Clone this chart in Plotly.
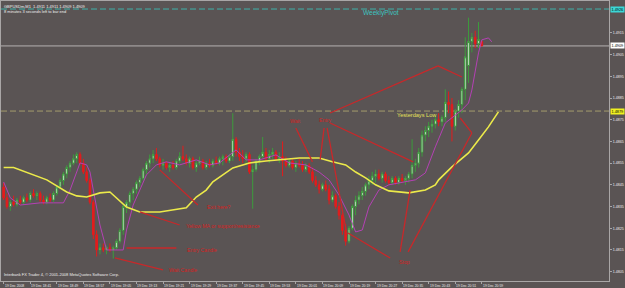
import plotly.graph_objects as go

# ---------------- data (GBPUSDm, M1, 19 Dec 2008) ----------------
bar_index = list(range(145))

opens = [1.4844, 1.4839, 1.4835, 1.4837, 1.4836, 1.4838, 1.4837, 1.4839, 1.4838, 1.4841,
         1.4840, 1.4841, 1.4838, 1.4837, 1.4839, 1.4838, 1.4841, 1.4844, 1.4847, 1.4850,
         1.4853, 1.4855, 1.4857, 1.4859, 1.4855, 1.4851, 1.4847, 1.4837, 1.4822, 1.4815,
         1.4816, 1.4815, 1.4816, 1.4815, 1.4816, 1.4819, 1.4824, 1.4835, 1.4837, 1.4841,
         1.4843, 1.4846, 1.4848, 1.4852, 1.4855, 1.4857, 1.4859, 1.4857, 1.4854, 1.4855,
         1.4853, 1.4854, 1.4853, 1.4856, 1.4858, 1.4857, 1.4855, 1.4857, 1.4853, 1.4855,
         1.4856, 1.4853, 1.4855, 1.4854, 1.4856, 1.4855, 1.4857, 1.4858, 1.4856, 1.4858,
         1.4866, 1.4860, 1.4858, 1.4857, 1.4859, 1.4851, 1.4852, 1.4856, 1.4858, 1.4860,
         1.4857, 1.4859, 1.4860, 1.4857, 1.4858, 1.4856, 1.4854, 1.4856, 1.4853, 1.4855,
         1.4854, 1.4852, 1.4854, 1.4851, 1.4847, 1.4845, 1.4843, 1.4845, 1.4843, 1.4838,
         1.4840, 1.4835, 1.4831, 1.4824, 1.4819, 1.4825, 1.4835, 1.4838, 1.4840, 1.4842,
         1.4845, 1.4847, 1.4849, 1.4850, 1.4848, 1.4850, 1.4847, 1.4846, 1.4848, 1.4846,
         1.4848, 1.4847, 1.4848, 1.4850, 1.4854, 1.4855, 1.4860, 1.4868, 1.4870, 1.4872,
         1.4873, 1.4875, 1.4874, 1.4876, 1.4883, 1.4882, 1.4872, 1.4879, 1.4882, 1.4889,
         1.4900, 1.4911, 1.4913, 1.4910, 1.4911]
highs = [1.4846, 1.4841, 1.4838, 1.4840, 1.4839, 1.4840, 1.4840, 1.4841, 1.4842, 1.4843,
         1.4842, 1.4842, 1.4840, 1.4840, 1.4841, 1.4842, 1.4845, 1.4848, 1.4851, 1.4854,
         1.4856, 1.4859, 1.4860, 1.4860, 1.4857, 1.4853, 1.4848, 1.4838, 1.4824, 1.4818,
         1.4818, 1.4817, 1.4818, 1.4817, 1.4820, 1.4825, 1.4836, 1.4838, 1.4842, 1.4844,
         1.4847, 1.4849, 1.4853, 1.4856, 1.4859, 1.4861, 1.4862, 1.4858, 1.4857, 1.4856,
         1.4855, 1.4856, 1.4857, 1.4860, 1.4863, 1.4859, 1.4858, 1.4858, 1.4856, 1.4858,
         1.4857, 1.4856, 1.4857, 1.4857, 1.4858, 1.4858, 1.4859, 1.4859, 1.4859, 1.4878,
         1.4867, 1.4862, 1.4861, 1.4860, 1.4860, 1.4854, 1.4857, 1.4859, 1.4867, 1.4862,
         1.4861, 1.4862, 1.4861, 1.4860, 1.4865, 1.4858, 1.4857, 1.4857, 1.4856, 1.4857,
         1.4856, 1.4855, 1.4855, 1.4853, 1.4849, 1.4847, 1.4846, 1.4847, 1.4845, 1.4842,
         1.4841, 1.4837, 1.4832, 1.4827, 1.4826, 1.4836, 1.4840, 1.4842, 1.4844, 1.4846,
         1.4849, 1.4851, 1.4852, 1.4852, 1.4851, 1.4851, 1.4849, 1.4849, 1.4849, 1.4849,
         1.4850, 1.4849, 1.4851, 1.4866, 1.4857, 1.4862, 1.4870, 1.4872, 1.4874, 1.4875,
         1.4877, 1.4878, 1.4877, 1.4889, 1.4888, 1.4885, 1.4880, 1.4884, 1.4890, 1.4913,
         1.4922, 1.4915, 1.4916, 1.4920, 1.4911]
lows = [1.4838, 1.4834, 1.4833, 1.4835, 1.4835, 1.4836, 1.4836, 1.4837, 1.4837, 1.4839,
        1.4838, 1.4837, 1.4836, 1.4836, 1.4837, 1.4837, 1.4840, 1.4843, 1.4845, 1.4848,
        1.4851, 1.4854, 1.4855, 1.4854, 1.4850, 1.4846, 1.4836, 1.4820, 1.4812, 1.4813,
        1.4814, 1.4813, 1.4814, 1.4811, 1.4815, 1.4818, 1.4822, 1.4832, 1.4835, 1.4838,
        1.4841, 1.4844, 1.4847, 1.4850, 1.4853, 1.4855, 1.4856, 1.4853, 1.4852, 1.4852,
        1.4851, 1.4852, 1.4852, 1.4855, 1.4856, 1.4854, 1.4853, 1.4852, 1.4851, 1.4854,
        1.4852, 1.4852, 1.4853, 1.4853, 1.4854, 1.4854, 1.4854, 1.4855, 1.4855, 1.4856,
        1.4858, 1.4856, 1.4855, 1.4854, 1.4850, 1.4834, 1.4851, 1.4854, 1.4857, 1.4856,
        1.4855, 1.4857, 1.4856, 1.4855, 1.4849, 1.4853, 1.4853, 1.4852, 1.4851, 1.4853,
        1.4851, 1.4851, 1.4850, 1.4846, 1.4844, 1.4841, 1.4842, 1.4842, 1.4836, 1.4837,
        1.4834, 1.4829, 1.4822, 1.4817, 1.4818, 1.4824, 1.4831, 1.4836, 1.4838, 1.4840,
        1.4843, 1.4845, 1.4846, 1.4847, 1.4846, 1.4846, 1.4845, 1.4845, 1.4845, 1.4845,
        1.4846, 1.4845, 1.4846, 1.4848, 1.4851, 1.4853, 1.4858, 1.4865, 1.4867, 1.4869,
        1.4871, 1.4872, 1.4872, 1.4874, 1.4878, 1.4865, 1.4870, 1.4876, 1.4878, 1.4884,
        1.4892, 1.4906, 1.4908, 1.4908, 1.4909]
closes = [1.4839, 1.4835, 1.4837, 1.4836, 1.4838, 1.4837, 1.4839, 1.4838, 1.4841, 1.4840,
          1.4841, 1.4838, 1.4837, 1.4839, 1.4838, 1.4841, 1.4844, 1.4847, 1.4850, 1.4853,
          1.4855, 1.4857, 1.4859, 1.4855, 1.4851, 1.4847, 1.4837, 1.4822, 1.4815, 1.4816,
          1.4815, 1.4816, 1.4815, 1.4816, 1.4819, 1.4824, 1.4835, 1.4837, 1.4841, 1.4843,
          1.4846, 1.4848, 1.4852, 1.4855, 1.4857, 1.4859, 1.4857, 1.4854, 1.4855, 1.4853,
          1.4854, 1.4853, 1.4856, 1.4858, 1.4857, 1.4855, 1.4857, 1.4853, 1.4855, 1.4856,
          1.4853, 1.4855, 1.4854, 1.4856, 1.4855, 1.4857, 1.4858, 1.4856, 1.4858, 1.4866,
          1.4860, 1.4858, 1.4857, 1.4859, 1.4851, 1.4852, 1.4856, 1.4858, 1.4860, 1.4857,
          1.4859, 1.4860, 1.4857, 1.4858, 1.4856, 1.4854, 1.4856, 1.4853, 1.4855, 1.4854,
          1.4852, 1.4854, 1.4851, 1.4847, 1.4845, 1.4843, 1.4845, 1.4843, 1.4838, 1.4840,
          1.4835, 1.4831, 1.4824, 1.4819, 1.4825, 1.4835, 1.4838, 1.4840, 1.4842, 1.4845,
          1.4847, 1.4849, 1.4850, 1.4848, 1.4850, 1.4847, 1.4846, 1.4848, 1.4846, 1.4848,
          1.4847, 1.4848, 1.4850, 1.4854, 1.4855, 1.4860, 1.4868, 1.4870, 1.4872, 1.4873,
          1.4875, 1.4874, 1.4876, 1.4883, 1.4882, 1.4872, 1.4879, 1.4882, 1.4889, 1.4904,
          1.4911, 1.4913, 1.4910, 1.4912, 1.4909]

# slow (yellow) moving average, shifted forward
yellow_ma_idx = [0, 3, 13, 19, 22, 25, 29, 32, 37, 41, 47, 55, 58, 61, 63, 69, 74, 79, 89, 95,
                 99, 103, 106, 109, 112, 116, 122, 127, 130, 131, 135, 140, 143, 146, 149]
yellow_ma = [1.48530, 1.48530, 1.48473, 1.48417, 1.48399, 1.48394, 1.48413, 1.48417, 1.48348,
             1.48325, 1.48325, 1.48344, 1.48394, 1.48426, 1.48464, 1.48528, 1.48551, 1.48560,
             1.48574, 1.48574, 1.48556, 1.48542, 1.48509, 1.48482, 1.48450, 1.48422, 1.48413,
             1.48426, 1.48450, 1.48473, 1.48533, 1.48597, 1.48657, 1.48717, 1.48786]

# fast (purple) moving average
purple_ma_idx = [0, 2, 5, 11, 15, 18, 20, 22, 23, 25, 26, 27, 29, 31, 36, 37, 39, 41, 43, 46,
                 49, 53, 58, 62, 65, 70, 73, 77, 82, 86, 91, 95, 98, 101, 104, 106, 108, 110,
                 113, 116, 119, 124, 127, 130, 133, 136, 138, 140, 141, 143, 144, 146, 147]
purple_ma = [1.48463, 1.48390, 1.48357, 1.48367, 1.48367, 1.48367, 1.48426, 1.48509, 1.48551,
             1.48542, 1.48509, 1.48426, 1.48265, 1.48150, 1.48150, 1.48242, 1.48357, 1.48426,
             1.48496, 1.48542, 1.48556, 1.48542, 1.48565, 1.48542, 1.48551, 1.48611, 1.48565,
             1.48565, 1.48588, 1.48551, 1.48542, 1.48509, 1.48473, 1.48403, 1.48311, 1.48233,
             1.48242, 1.48348, 1.48426, 1.48450, 1.48459, 1.48473, 1.48505, 1.48625, 1.48735,
             1.48772, 1.48795, 1.48827, 1.48887, 1.49058, 1.49118, 1.49127, 1.49109]

# hand-drawn trend lines (bar index / price of both ends)
seg_x0 = [37, 33.5, 41, 47, 88, 96.5, 97.4, 98.3, 98.3, 130.8, 137.5, 141, 122.4, 103.7]
seg_p0 = [1.48159, 1.48113, 1.48325, 1.48519, 1.48712, 1.48712, 1.48712, 1.48735, 1.48781,
          1.48998, 1.48758, 1.48689, 1.48426, 1.48228]
seg_x1 = [52, 48, 53, 58.5, 93, 95.3, 103.4, 123.3, 130.8, 138, 141, 121.8, 119.4, 116.4]
seg_p1 = [1.48159, 1.48058, 1.48265, 1.48357, 1.48556, 1.48565, 1.48219, 1.48556, 1.48998,
          1.48947, 1.48689, 1.48141, 1.48141, 1.48113]

note_texts = ["Entry Candle", "Wait Candle", "Yellow MA or support/resistance", "Exit here?",
              "Wait", "Entry", "Stop"]
note_idx = [54.6, 49.2, 54.3, 60.6, 88, 97, 120.6]
note_price = [1.48150, 1.48058, 1.48260, 1.48348, 1.48745, 1.48750, 1.48095]
note_anchor = ["left", "left", "left", "left", "center", "center", "center"]

weekly_pivot = 1.4926
yesterdays_low = 1.4879
last_price = 1.4909

price_ticks = [1.4805, 1.4815, 1.4825, 1.4835, 1.4845, 1.4855, 1.4865, 1.4875,
               1.4885, 1.4895, 1.4905, 1.4915]
price_tick_text = ["1.4805", "1.4815", "1.4825", "1.4835", "1.4845", "1.4855", "1.4865",
                   "1.4875", "1.4885", "1.4895", "1.4905", "1.4915"]

time_tick_idx = [0, 8, 16, 24, 32, 40, 48, 56, 64, 72, 80, 88, 96, 104, 112, 120, 128, 136, 144]
time_tick_text = ["19 Dec 2008", "19 Dec 18:41", "19 Dec 18:49", "19 Dec 18:57", "19 Dec 19:05",
                  "19 Dec 19:13", "19 Dec 19:21", "19 Dec 19:29", "19 Dec 19:37", "19 Dec 19:45",
                  "19 Dec 19:53", "19 Dec 20:01", "19 Dec 20:09", "19 Dec 20:19", "19 Dec 20:27",
                  "19 Dec 20:35", "19 Dec 20:43", "19 Dec 20:51", "19 Dec 20:59"]

# ---------------- figure ----------------
BG = "#5a5454"
FRAME = "#a9a6a6"
RED = "#c8282a"
FONT = "Liberation Sans"

fig = go.Figure()

fig.add_trace(go.Candlestick(
    x=bar_index, open=opens, high=highs, low=lows, close=closes,
    increasing=dict(line=dict(color="#3c9c3c", width=1), fillcolor="#f2f2f2"),
    decreasing=dict(line=dict(color="#e41c1c", width=1), fillcolor="#e41c1c"),
    whiskerwidth=0, showlegend=False, hoverinfo="skip"))

fig.add_trace(go.Scatter(x=purple_ma_idx, y=purple_ma, mode="lines",
                         line=dict(color="#b441b4", width=1), showlegend=False, hoverinfo="skip"))
fig.add_trace(go.Scatter(x=yellow_ma_idx, y=yellow_ma, mode="lines",
                         line=dict(color="#ecea4a", width=1.6), showlegend=False, hoverinfo="skip"))

seg_x, seg_y = [], []
for a, b, c, d in zip(seg_x0, seg_p0, seg_x1, seg_p1):
    seg_x += [a, c, None]
    seg_y += [b, d, None]
fig.add_trace(go.Scatter(x=seg_x, y=seg_y, mode="lines", line=dict(color=RED, width=1.3),
                         showlegend=False, hoverinfo="skip"))

shapes = [
    dict(type="line", xref="paper", x0=0, x1=1, yref="y", y0=weekly_pivot, y1=weekly_pivot,
         line=dict(color="#3fb2aa", width=1, dash="6px,3px"), layer="below"),
    dict(type="line", xref="paper", x0=0, x1=1, yref="y", y0=yesterdays_low, y1=yesterdays_low,
         line=dict(color="#a49c6c", width=1, dash="6px,3px"), layer="below"),
    dict(type="line", xref="paper", x0=0, x1=1, yref="y", y0=last_price, y1=last_price,
         line=dict(color="#b4b2b2", width=1), layer="below"),
]

annotations = []
for t, xi, p, anc in zip(note_texts, note_idx, note_price, note_anchor):
    annotations.append(dict(x=xi, y=p, xref="x", yref="y", text=t, showarrow=False,
                            xanchor=anc, yanchor="middle",
                            font=dict(family=FONT, size=5.2, color="#d42222")))

annotations.append(dict(x=113.6, y=1.49242, xref="x", yref="y", text="WeeklyPivot",
                        showarrow=False, xanchor="center", yanchor="middle",
                        font=dict(family=FONT, size=6.5, color="#3cc4c0")))
annotations.append(dict(x=117.9, y=1.48772, xref="x", yref="y", text="Yesterdays Low",
                        showarrow=False, xanchor="left", yanchor="middle",
                        font=dict(family=FONT, size=5.6, color="#e6e25a")))

# price value boxes on the right axis
for p, txt, bg in [(weekly_pivot, "1.4926", "#3cd6d6"), (last_price, "1.4909", "#ffffff"),
                   (yesterdays_low, "1.4879", "#f0f020")]:
    annotations.append(dict(x=1, y=p, xref="paper", yref="y", text=txt, showarrow=False,
                            xanchor="left", yanchor="middle", xshift=1, bgcolor=bg,
                            borderpad=0.5, font=dict(family=FONT, size=3.8, color="#000000")))

# time labels (left aligned like MT4)
for xi, t in zip(time_tick_idx, time_tick_text):
    annotations.append(dict(x=xi, y=0, xref="x", yref="paper", text=t, showarrow=False,
                            xanchor="left", yanchor="top", xshift=-1, yshift=-1,
                            font=dict(family=FONT, size=3.4, color="#e8e8e8")))

annotations += [
    dict(x=0, y=1, xref="paper", yref="paper", text="GBPUSDm,M1  1.4911 1.4911 1.4909 1.4909",
         showarrow=False, xanchor="left", yanchor="top", xshift=1, yshift=-1,
         font=dict(family=FONT, size=4, color="#eeeeee")),
    dict(x=0, y=1, xref="paper", yref="paper", text="8 minutes 3 seconds left to bar end",
         showarrow=False, xanchor="left", yanchor="top", xshift=1, yshift=-6,
         font=dict(family=FONT, size=4, color="#eeeeee")),
    dict(x=0, y=0, xref="paper", yref="paper",
         text="Interbank FX Trader 4, © 2001-2008 MetaQuotes Software Corp.",
         showarrow=False, xanchor="left", yanchor="bottom", xshift=1, yshift=2,
         font=dict(family=FONT, size=4, color="#eeeeee")),
]

fig.update_layout(
    width=625, height=288,
    margin=dict(l=1, r=16, t=1, b=7),
    paper_bgcolor=BG, plot_bgcolor=BG,
    showlegend=False,
    shapes=shapes,
    annotations=annotations,
    xaxis=dict(range=[-0.8, 182.3], showgrid=False, zeroline=False, showline=True,
               linecolor=FRAME, linewidth=1, mirror=True,
               tickvals=time_tick_idx, ticks="outside", ticklen=2, tickcolor=FRAME,
               showticklabels=False, rangeslider=dict(visible=False), fixedrange=True),
    yaxis=dict(range=[1.48007, 1.49297], side="right", showgrid=False, zeroline=False,
               showline=True, linecolor=FRAME, linewidth=1, mirror=True,
               tickvals=price_ticks, ticktext=price_tick_text, ticks="outside", ticklen=2,
               tickcolor=FRAME, tickfont=dict(family=FONT, size=3.6, color="#eeeeee"),
               fixedrange=True),
)

fig.write_html("out.html")
